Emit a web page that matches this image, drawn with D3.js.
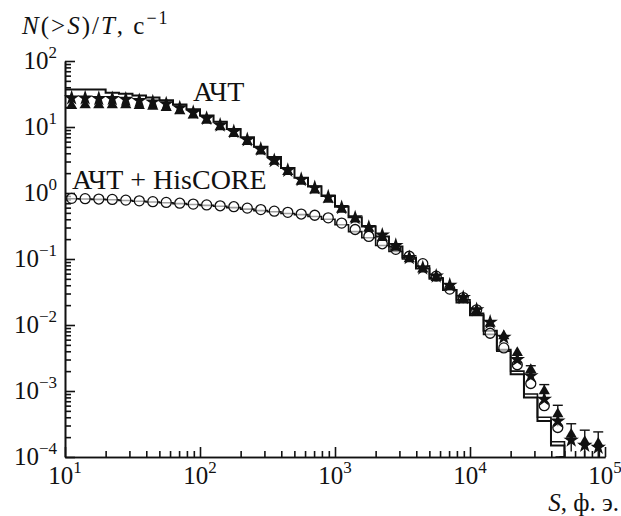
<!DOCTYPE html>
<html>
<head>
<meta charset="utf-8">
<script src="https://cdn.jsdelivr.net/npm/d3@7"></script>
<style>
  body { margin: 0; background: #fff; }
  svg text { font-family: "Liberation Serif", "Times New Roman", Times, serif; fill: #111; }
</style>
</head>
<body>
<div id="chart"></div>
<script>
// bin centres, S (photoelectrons)
var binS = [11.2, 14.1, 17.8, 22.4, 28.2, 35.5, 44.7, 56.2, 70.8, 89.1,
  112, 141, 178, 224, 282, 355, 447, 562, 708, 891,
  1120, 1410, 1780, 2240, 2820, 3550, 4470, 5620, 7080, 8910,
  11200, 14100, 17800, 22400, 28200, 35500, 44700, 56200, 70800, 89100];

// АЧТ, measured (filled stars)
var starN = [27.5, 27.5, 27, 26.9, 26.3, 25.1, 24.0, 22.4, 19.5, 16.6,
  13.5, 10.7, 8.5, 6.4, 4.6, 3.1, 2.2, 1.6, 1.2, 0.87,
  0.60, 0.42, 0.30, 0.23, 0.16, 0.105, 0.073, 0.055, 0.040, 0.026,
  0.017, 0.011, 0.0065, 0.0030, 0.0017, 0.00075, 0.00035, 0.00018, 0.00015, 0.00014];

// АЧТ, second set (filled triangles)
var triN = [21, 21.5, 21.5, 21.5, 21.5, 21, 20.5, 19.5, 17.5, 15.1,
  12.6, 10.0, 7.9, 6.0, 4.3, 3.0, 2.1, 1.5, 1.1, 0.80,
  0.56, 0.40, 0.29, 0.21, 0.15, 0.10, 0.070, 0.052, 0.038, 0.025,
  0.016, 0.0105, 0.0068, 0.0038, 0.0021, 0.0010, 0.00045, 0.00022, 0.00017, 0.00016];
// relative errors of the triangles (tail only)
var triErr = [0, 0, 0, 0, 0, 0, 0, 0, 0, 0,
  0, 0, 0, 0, 0, 0, 0, 0, 0, 0,
  0, 0, 0, 0, 0, 0, 0, 0, 0, 0,
  0, 0, 0, 0, 0.15, 0.25, 0.35, 0.45, 0.5, 0.5];

// АЧТ + HisCORE (open circles)
var circS = binS.slice(0, 37);
var circN = [0.83, 0.82, 0.81, 0.80, 0.78, 0.76, 0.74, 0.72, 0.70, 0.68,
  0.66, 0.64, 0.62, 0.59, 0.56, 0.53, 0.51, 0.48, 0.46, 0.42,
  0.35, 0.28, 0.22, 0.17, 0.14, 0.11, 0.085, 0.055, 0.035, 0.026,
  0.017, 0.0075, 0.0045, 0.0025, 0.0013, 0.0006, 0.00028];

// model histograms: bin left edges and values
var modelEdges = [10, 12.6, 15.8, 20, 25.1, 31.6, 39.8, 50.1, 63.1, 79.4,
  100, 126, 158, 200, 251, 316, 398, 501, 631, 794,
  1000, 1260, 1580, 2000, 2510, 3160, 3980, 5010, 6310, 7940,
  10000, 12600, 15800, 20000, 25100, 31600, 39800, 50100];
var modelATT = [37, 37, 37, 33, 32, 30, 28, 25.5, 22, 18.5,
  15, 12, 9.3, 7.0, 5.0, 3.5, 2.4, 1.7, 1.25, 0.9,
  0.62, 0.43, 0.31, 0.22, 0.155, 0.105, 0.072, 0.05, 0.034, 0.022,
  0.014, 0.0082, 0.0042, 0.0018, 0.0008, 0.00035, 0.00015, 0.0001];
var modelHis = [0.82, 0.81, 0.80, 0.79, 0.77, 0.75, 0.73, 0.71, 0.69, 0.67,
  0.65, 0.63, 0.60, 0.57, 0.54, 0.52, 0.49, 0.47, 0.44, 0.40,
  0.33, 0.26, 0.21, 0.16, 0.13, 0.10, 0.078, 0.052, 0.034, 0.024,
  0.015, 0.0072, 0.0040, 0.0020, 0.0009, 0.00040, 0.00017, 0.0001];

var xDecades = [1, 2, 3, 4, 5];
var yDecades = [2, 1, 0, -1, -2, -3, -4];

var width = 621, height = 516;
var svg = d3.select("#chart").append("svg")
  .attr("width", width).attr("height", height);

var x = d3.scaleLog().domain([10, 1e5]).range([65, 605]);
var y = d3.scaleLog().domain([1e-4, 1e2]).range([457, 61]);

// minor tick values
var xMinor = [], yMinor = [];
for (var e = 1; e < 5; e++) for (var m = 2; m < 10; m++) xMinor.push(m * Math.pow(10, e));
for (var e = -4; e < 2; e++) for (var m = 2; m < 10; m++) yMinor.push(m * Math.pow(10, e));

// axes with inward ticks
function styleAxis(g) {
  g.selectAll("path, line").attr("stroke", "#111").attr("stroke-width", 1.6);
  g.selectAll("text").remove();
}
svg.append("g").attr("transform", "translate(0,457)")
  .call(d3.axisBottom(x).tickValues(xMinor).tickSize(-6).tickSizeOuter(0).tickFormat(""))
  .call(styleAxis);
svg.append("g").attr("transform", "translate(0,457)")
  .call(d3.axisBottom(x).tickValues(xDecades.map(function(d){ return Math.pow(10, d); })).tickSize(-10).tickSizeOuter(0).tickFormat(""))
  .call(styleAxis);
svg.append("g").attr("transform", "translate(65,0)")
  .call(d3.axisLeft(y).tickValues(yMinor).tickSize(-6).tickSizeOuter(0).tickFormat(""))
  .call(styleAxis);
svg.append("g").attr("transform", "translate(65,0)")
  .call(d3.axisLeft(y).tickValues(yDecades.map(function(d){ return Math.pow(10, d); })).tickSize(-10).tickSizeOuter(0).tickFormat(""))
  .call(styleAxis);

// tick labels with superscripts
function powLabel(t, p) {
  t.append("tspan").text("10");
  t.append("tspan").attr("dy", -11).style("font-size", "17px")
    .text(p < 0 ? "\u2212" + (-p) : p);
}
xDecades.forEach(function(p) {
  var t = svg.append("text").attr("x", x(Math.pow(10, p))).attr("y", 484)
    .attr("text-anchor", "middle").style("font-size", "25px");
  powLabel(t, p);
});
yDecades.forEach(function(p) {
  var t = svg.append("text").attr("x", 57).attr("y", y(Math.pow(10, p)) + 8)
    .attr("text-anchor", "end").style("font-size", "25px");
  powLabel(t, p);
});

// axis titles
var yt = svg.append("text").attr("x", 22).attr("y", 34)
  .style("font-size", "25px").style("letter-spacing", "2px");
yt.append("tspan").style("font-style", "italic").text("N");
yt.append("tspan").text("(>");
yt.append("tspan").style("font-style", "italic").text("S");
yt.append("tspan").text(")/");
yt.append("tspan").style("font-style", "italic").text("T");
yt.append("tspan").text(", c");
yt.append("tspan").attr("dy", -10).style("font-size", "18px").text("\u22121");

var xt = svg.append("text").attr("x", 619).attr("y", 511)
  .attr("text-anchor", "end").style("font-size", "25px");
xt.append("tspan").style("font-style", "italic").text("S");
xt.append("tspan").text(", ф. э.");

// model step lines
function stepLine(vals, lastEdge) {
  var pts = [];
  vals.forEach(function(v, i) {
    var x0 = modelEdges[i];
    var x1 = i + 1 < modelEdges.length ? modelEdges[i + 1] : lastEdge;
    pts.push([x0, v], [x1, v]);
  });
  return d3.line().x(function(d){ return x(d[0]); }).y(function(d){ return y(d[1]); })(pts);
}
svg.append("path").attr("d", stepLine(modelATT, 46000))
  .attr("fill", "none").attr("stroke", "#111").attr("stroke-width", 2);
svg.append("path").attr("d", stepLine(modelHis, 43000))
  .attr("fill", "none").attr("stroke", "#111").attr("stroke-width", 1.6);

// error bars for triangles
var eb = svg.append("g").attr("stroke", "#111").attr("stroke-width", 1.4);
binS.forEach(function(s, i) {
  if (!triErr[i]) return;
  var lo = Math.max(triN[i] * (1 - triErr[i]), 1e-4), hi = triN[i] * (1 + triErr[i]);
  eb.append("line").attr("x1", x(s)).attr("x2", x(s)).attr("y1", y(lo)).attr("y2", y(hi));
  eb.append("line").attr("x1", x(s) - 5).attr("x2", x(s) + 5).attr("y1", y(hi)).attr("y2", y(hi));
});

// open circles
svg.append("g").selectAll("circle").data(circS).enter().append("circle")
  .attr("cx", function(d){ return x(d); })
  .attr("cy", function(d, i){ return y(circN[i]); })
  .attr("r", 5)
  .attr("fill", "#fff").attr("fill-opacity", 0.6).attr("stroke", "#111").attr("stroke-width", 1.3);

// filled triangles
svg.append("g").selectAll("path").data(binS).enter().append("path")
  .attr("d", d3.symbol().type(d3.symbolTriangle).size(55))
  .attr("transform", function(d, i){ return "translate(" + x(d) + "," + y(triN[i]) + ")"; })
  .attr("fill", "#111");

// filled stars
svg.append("g").selectAll("path").data(binS).enter().append("path")
  .attr("d", d3.symbol().type(d3.symbolStar).size(75))
  .attr("transform", function(d, i){ return "translate(" + x(d) + "," + y(starN[i]) + ")"; })
  .attr("fill", "#111");

// series labels
svg.append("text").attr("x", 193).attr("y", 101).style("font-size", "28px").text("АЧТ");
svg.append("text").attr("x", 72).attr("y", 189).style("font-size", "28px").text("АЧТ + HisCORE");
</script>
</body>
</html>
